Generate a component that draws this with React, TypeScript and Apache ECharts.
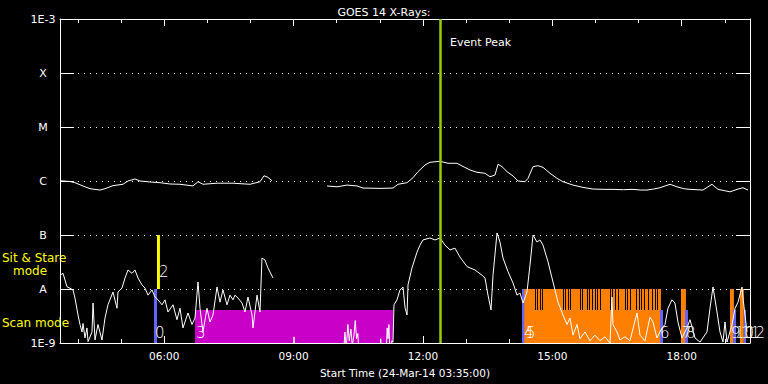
import React, { useEffect, useRef } from "react";
import * as echarts from "echarts";

const START_HOUR = 3 + 35 / 60;
const END_HOUR = START_HOUR + 16;
const FONT = '"DejaVu Sans", sans-serif';

const xMinorTicks = [4, 5, 6, 7, 8, 9, 10, 11, 12, 13, 14, 15, 16, 17, 18, 19];
const xMajorTicks = [6, 9, 12, 15, 18];
const yTickLabels = ["1E-9", "A", "B", "C", "M", "X", "1E-3"];
const EVENT_PEAK = 12.395;

// GOES long channel (1-8 A)
const longTimes = [
  3.583, 3.815, 3.931, 4.163, 4.279, 4.511, 4.627, 4.812, 5.044, 5.16, 5.322, 5.438, 5.67, 5.902,
  6.134, 6.366, 6.667, 6.783, 6.899, 7.224, 7.595, 7.989, 8.221, 8.313, 8.406, 8.499, 9.0,
  9.775, 10.006, 10.238, 10.47, 10.609, 11.004, 11.305, 11.421, 11.63, 11.769, 11.885, 12.047,
  12.163, 12.395, 12.58, 12.789, 12.905, 13.091, 13.253, 13.438, 13.554, 13.67, 13.74, 13.833,
  13.949, 14.088, 14.204, 14.366, 14.436, 14.552, 14.667, 14.783, 14.946, 15.108, 15.247, 15.479,
  15.711, 15.943, 16.2, 16.406, 16.65, 16.87, 17.05, 17.195, 17.35, 17.496, 17.728, 17.89, 18.05,
  18.192, 18.494, 18.702, 18.841, 19.0, 19.12, 19.282, 19.421, 19.537,
];
const longFlux = [
  1.01e-6, 9.8e-7, 9.3e-7, 7.8e-7, 7.2e-7, 6.8e-7, 7.2e-7, 8.2e-7, 8.7e-7, 1.0e-6, 1.09e-6, 1.0e-6, 9.6e-7, 9.3e-7,
  8.8e-7, 8.7e-7, 8.1e-7, 9.7e-7, 8.7e-7, 9.1e-7, 9.1e-7, 8.7e-7, 9.7e-7, 1.25e-6, 1.17e-6, 1.01e-6, null,
  8.1e-7, 7.8e-7, 8.4e-7, 8.1e-7, 7.4e-7, 7.3e-7, 7.4e-7, 8.7e-7, 9.3e-7, 1.15e-6, 1.49e-6, 1.98e-6,
  2.22e-6, 2.32e-6, 2.13e-6, 2.13e-6, 1.9e-6, 1.6e-6, 1.45e-6, 1.39e-6, 1.2e-6, 1.29e-6, 2.04e-6, 1.84e-6,
  1.49e-6, 1.24e-6, 1.0e-6, 9.7e-7, 1.12e-6, 1.84e-6, 1.92e-6, 1.79e-6, 1.39e-6, 1.12e-6, 9.7e-7, 8.4e-7,
  7.6e-7, 7.1e-7, 7.0e-7, 7.0e-7, 6.9e-7, 7.0e-7, 6.8e-7, 6.8e-7, 7.1e-7, 7.5e-7, 8.7e-7, 7.8e-7, 7.2e-7,
  7.0e-7, 6.8e-7, 8.7e-7, 7.0e-7, 6.6e-7, 6.3e-7, 7.0e-7, 7.5e-7, 6.8e-7,
];

// GOES short channel (0.5-4 A)
const shortTimes = [
  3.583, 3.653, 3.746, 3.815, 3.885, 3.931, 4.001, 4.047, 4.094, 4.117, 4.163, 4.209, 4.233, 4.325,
  4.349, 4.395, 4.464, 4.557, 4.627, 4.696, 4.812, 4.905, 4.928, 5.021, 5.091, 5.16, 5.253, 5.322,
  5.392, 5.485, 5.554, 5.624, 5.717, 5.786, 5.856, 5.949, 6.018, 6.088, 6.204, 6.296, 6.366, 6.435,
  6.551, 6.644, 6.714, 6.783, 6.83, 6.899, 6.992, 7.061, 7.131, 7.224, 7.293, 7.363, 7.456, 7.525,
  7.595, 7.641, 7.711, 7.804, 7.873, 7.943, 8.036, 8.059, 8.152, 8.221, 8.267, 8.337, 8.406, 8.522,
  8.55,
  8.6, 8.98, 9.01, 9.04, 10.15, 10.19, 10.22, 10.26, 10.29, 10.33, 10.36, 10.4, 10.43, 10.46, 10.49,
  10.52, 11.0, 11.02, 11.05, 11.14, 11.17, 11.19, 11.21, 11.24, 11.28, 11.305, 11.328, 11.398,
  11.467, 11.537, 11.583, 11.63, 11.653, 11.745, 11.861, 11.931, 12.001, 12.163, 12.279, 12.395,
  12.511, 12.627, 12.743, 12.858, 13.021, 13.206, 13.369, 13.438, 13.508, 13.578, 13.624, 13.717,
  13.786, 13.856, 13.972, 14.088, 14.18, 14.25, 14.32, 14.412, 14.482, 14.552, 14.644, 14.713,
  14.783, 14.899, 15.015, 15.131, 15.247, 15.34, 15.409, 15.479, 15.572, 15.641, 15.757, 15.873,
  15.989, 16.105, 16.221, 16.337, 16.383, 16.406, 16.499, 16.568, 16.684, 16.8, 16.963, 17.032,
  17.148, 17.264, 17.334, 17.426, 17.542, 17.612, 17.681, 17.774, 17.843, 17.913, 18.006, 18.122,
  18.192, 18.308, 18.424, 18.586, 18.656, 18.725, 18.818, 18.888, 18.957, 19.004, 19.05, 19.166,
  19.236, 19.305, 19.398, 19.421, 19.467, 19.514,
];
const shortFlux = [
  1.8e-8, 1.95e-8, 1.1e-8, 1.03e-8, 9.6e-9, 6.8e-9, 3.3e-9, 2.2e-9, 1.6e-9, 2.3e-9, 1.24e-9, 1.9e-9, 1.06e-9, 1.6e-9,
  5.5e-9, 1.14e-9, 2.2e-9, 1.14e-9, 2.9e-9, 5.1e-9, 8.8e-9, 4.4e-9, 8.8e-9, 1.04e-8, 1.6e-8, 2.25e-8, 1.95e-8, 2.25e-8,
  1.6e-8, 1.19e-8, 1.04e-8, 7.7e-9, 9.6e-9, 7.1e-9, 6.3e-9, 5.1e-9, 6.3e-9, 3.75e-9, 5.1e-9, 2.7e-9, 4.4e-9, 1.9e-9,
  3.6e-9, 2.2e-9, 2.9e-9, 1.35e-8, 4.4e-9, 1.6e-9, 4.4e-9, 2.45e-9, 3.3e-9, 1.09e-8, 5.7e-9, 9.6e-9, 5.1e-9, 7.7e-9,
  6.3e-9, 7.7e-9, 6.8e-9, 5.5e-9, 3.75e-9, 7.1e-9, 3.3e-9, 1.9e-9, 7.7e-9, 3.75e-9, 3.75e-8, 3.44e-8, 2.45e-8, 1.6e-8,
  null,
  5e-10, 5e-10, 1.3e-9, 5e-10, 5e-10, 1.6e-9, 8e-10, 2.2e-9, 1.1e-9, 1.8e-9, 9e-10, 1.4e-9, 2.6e-9, 1.2e-9, 1.5e-9,
  5e-10, 5e-10, 1.2e-9, 5e-10, 5e-10, 1.9e-9, 1.2e-9, 2.2e-9, 5e-10, 1.1e-9, 1.04e-9, 5.1e-9, 6.3e-9,
  9.6e-9, 1.09e-8, 4.6e-9, 3.3e-9, 1.19e-8, 2.45e-8, 4.8e-8, 6.5e-8, 8.1e-8, 8.8e-8, 8.1e-8, 8.8e-8,
  6.5e-8, 5.3e-8, 5.7e-8, 3.9e-8, 2.6e-8, 2.25e-8, 1.8e-8, 1.6e-8, 7.7e-9, 4.1e-9, 1.8e-8, 1.09e-7,
  7.4e-8, 3.75e-8, 2.1e-8, 1.29e-8, 7.7e-9, 8.4e-9, 5.5e-9, 8.8e-9, 2.8e-8, 1.0e-7, 7.4e-8, 8.1e-8,
  6.5e-8, 3.2e-8, 1.35e-8, 5.7e-9, 3.3e-9, 2.2e-9, 2.9e-9, 1.4e-9, 2.2e-9, 1.2e-9, 1.6e-9, 1.1e-9,
  1.4e-9, 1.1e-9, 1.3e-9, 1.0e-9, 7.1e-9, 2.2e-9, 1.6e-9, 1.14e-9, 1.3e-9, 1.1e-9, 3.6e-9, 1.4e-9,
  1.1e-9, 3.0e-9, 2.45e-9, 1.24e-9, 1.9e-9, 2.2e-9, 4.4e-9, 6.3e-9, 5.5e-9, 2.45e-9, 1.24e-9, 1.9e-9,
  2.7e-9, 1.24e-9, 1.04e-9, 1.6e-9, 4.4e-9, 1.09e-8, 3.75e-9, 1.6e-9, 1.04e-9, 2.45e-9, 1.04e-9, 2.2e-9,
  4.4e-9, 5.7e-9, 1.09e-8, 6.8e-9, 3.3e-9, 1.6e-9,
];

// Observation modes: 0 blue, 1 yellow, 2 magenta, 3 orange
const MODE_COLORS = ["#6464ff", "#ffff00", "#c800c8", "#ff8000"];
const FLOOR = 1e-9;
const SCAN_TOP = 4.1e-9;
const LEVEL_A = 1e-8;
const LEVEL_B = 1e-7;
const modeStart = [5.763, 5.832, 6.714, 14.296, 14.35, 17.496, 17.983, 18.076, 19.12, 19.189, 19.35, 19.44];
const modeEnd = [5.832, 5.9, 11.305, 14.366, 17.519, 17.566, 18.098, 18.145, 19.21, 19.259, 19.44, 19.49];
const modeLow = [FLOOR, LEVEL_A, FLOOR, FLOOR, FLOOR, FLOOR, FLOOR, FLOOR, FLOOR, FLOOR, FLOOR, FLOOR];
const modeHigh = [LEVEL_A, LEVEL_B, SCAN_TOP, LEVEL_A, LEVEL_A, SCAN_TOP, LEVEL_A, SCAN_TOP, LEVEL_A, SCAN_TOP, LEVEL_A, SCAN_TOP];
const modeColor = [0, 1, 2, 0, 3, 0, 3, 0, 3, 0, 3, 0];

// short interruptions of the orange sit & stare blocks
const orangeGaps = [
  14.598, 14.644, 14.713, 14.76, 15.247, 15.293, 15.363, 15.409, 15.641, 15.688, 15.804, 15.85,
  15.919, 15.989, 16.035, 16.105, 16.337, 16.383, 16.452, 16.522, 16.684, 16.731, 16.8, 16.939,
  17.009, 17.055, 17.125, 17.218, 17.31, 17.38, 17.426,
];

const labelText = ["0", "2", "3", "4", "5", "6", "7", "8", "9", "10", "11", "12"];
const labelTime = [5.786, 5.879, 6.737, 14.343, 14.389, 17.496, 18.006, 18.099, 19.143, 19.236, 19.375, 19.49];
const labelFlux = [1.53e-9, 2.06e-8, 1.53e-9, 1.53e-9, 1.53e-9, 1.53e-9, 1.53e-9, 1.53e-9, 1.53e-9, 1.53e-9, 1.53e-9, 1.53e-9];

function pad2(n: number) {
  return (n < 10 ? "0" : "") + n;
}

export default function App() {
  const ref = useRef<HTMLDivElement>(null);
  useEffect(() => {
    if (!ref.current) return;
    const chart = echarts.init(ref.current, null, { renderer: "svg" });
    const white = "#ffffff";
    const longData = longTimes.map((t, i) => [t, longFlux[i]]);
    const shortData = shortTimes.map((t, i) => [t, shortFlux[i]]);
    const modeData = modeStart.map((s, i) => [s, modeEnd[i], modeLow[i], modeHigh[i], modeColor[i]]);
    const gapData = orangeGaps.map((t) => [t, SCAN_TOP, LEVEL_A]);
    const labelData = labelTime.map((t, i) => [t, labelFlux[i], i]);

    const xBase = {
      type: "value",
      min: START_HOUR,
      max: END_HOUR,
      splitLine: { show: false },
    };
    const yBase = {
      type: "log",
      logBase: 10,
      min: 1e-9,
      max: 1e-3,
      splitNumber: 6,
    };

    chart.setOption({
      animation: false,
      backgroundColor: "#000000",
      title: {
        text: "GOES 14 X-Rays:",
        left: "center",
        top: 2,
        textStyle: { color: white, fontSize: 11, fontWeight: "normal", fontFamily: FONT },
      },
      grid: { left: 60, right: 18, top: 19, bottom: 41, containLabel: false },
      xAxis: [
        {
          ...xBase,
          position: "bottom",
          axisLine: { show: true, onZero: false, lineStyle: { color: white, width: 1 } },
          axisTick: { show: true, inside: true, length: 4, customValues: xMinorTicks, lineStyle: { color: white } },
          axisLabel: {
            show: true,
            customValues: xMajorTicks,
            color: white,
            fontSize: 10.5,
            fontFamily: FONT,
            margin: 7,
            formatter: (v: number) => pad2(Math.round(v)) + ":00",
          },
          name: "Start Time (24-Mar-14 03:35:00)",
          nameLocation: "middle",
          nameGap: 24,
          nameTextStyle: { color: white, fontSize: 10.5, fontFamily: FONT },
        },
        {
          ...xBase,
          position: "bottom",
          axisLine: { show: false },
          axisTick: { show: true, inside: true, length: 7, customValues: xMajorTicks, lineStyle: { color: white } },
          axisLabel: { show: false },
        },
        {
          ...xBase,
          position: "top",
          axisLine: { show: true, onZero: false, lineStyle: { color: white, width: 1 } },
          axisTick: { show: true, inside: true, length: 4, customValues: xMinorTicks, lineStyle: { color: white } },
          axisLabel: { show: false },
        },
        {
          ...xBase,
          position: "top",
          axisLine: { show: false },
          axisTick: { show: true, inside: true, length: 7, customValues: xMajorTicks, lineStyle: { color: white } },
          axisLabel: { show: false },
        },
      ],
      yAxis: [
        {
          ...yBase,
          position: "left",
          axisLine: { show: true, onZero: false, lineStyle: { color: white, width: 1 } },
          axisTick: { show: true, inside: true, length: 14, lineStyle: { color: white } },
          axisLabel: {
            color: white,
            fontSize: 11,
            fontFamily: FONT,
            align: "center",
            margin: 17,
            formatter: (v: number) => yTickLabels[Math.round(Math.log10(v)) + 9] || "",
          },
          splitLine: { show: true, lineStyle: { color: white, width: 1, type: [1, 5] } },
        },
        {
          ...yBase,
          position: "right",
          axisLine: { show: true, onZero: false, lineStyle: { color: white, width: 1 } },
          axisTick: { show: true, inside: true, length: 14, lineStyle: { color: white } },
          axisLabel: { show: false },
          splitLine: { show: false },
        },
      ],
      graphic: [
        { type: "text", left: 450, top: 37, style: { text: "Event Peak", fill: white, font: `11px ${FONT}` } },
        { type: "text", left: 2, top: 252, style: { text: "Sit & Stare", fill: "#ffff00", font: `12px ${FONT}` } },
        { type: "text", left: 13, top: 265, style: { text: "mode", fill: "#ffff00", font: `12px ${FONT}` } },
        { type: "text", left: 2, top: 317, style: { text: "Scan mode", fill: "#ffff00", font: `12px ${FONT}` } },
      ],
      series: [
        {
          type: "custom",
          name: "modes",
          z: 1,
          data: modeData,
          encode: { x: [0, 1], y: [2, 3] },
          renderItem: (params: any, api: any) => {
            const a = api.coord([api.value(0), api.value(3)]);
            const b = api.coord([api.value(1), api.value(2)]);
            return {
              type: "rect",
              shape: { x: a[0], y: a[1], width: Math.max(b[0] - a[0], 1.5), height: b[1] - a[1] },
              style: { fill: MODE_COLORS[api.value(4)] },
            };
          },
        },
        {
          type: "custom",
          name: "gaps",
          z: 2,
          data: gapData,
          encode: { x: 0, y: [1, 2] },
          renderItem: (params: any, api: any) => {
            const a = api.coord([api.value(0), api.value(2)]);
            const b = api.coord([api.value(0), api.value(1)]);
            const x = Math.round(a[0]);
            return {
              type: "rect",
              shape: { x: x, y: a[1], width: 1, height: b[1] - a[1] },
              style: { fill: "#000000" },
            };
          },
        },
        {
          type: "line",
          name: "long",
          z: 3,
          data: longData,
          showSymbol: false,
          symbol: "none",
          connectNulls: false,
          lineStyle: { color: white, width: 1 },
        },
        {
          type: "line",
          name: "short",
          z: 3,
          data: shortData,
          showSymbol: false,
          symbol: "none",
          connectNulls: false,
          lineStyle: { color: white, width: 1 },
          markLine: {
            silent: true,
            symbol: "none",
            label: { show: false },
            lineStyle: { color: "#99cc00", width: 2.5, type: "solid" },
            data: [{ xAxis: EVENT_PEAK }],
          },
        },
        {
          type: "custom",
          name: "labels",
          z: 4,
          data: labelData,
          encode: { x: 0, y: 1 },
          renderItem: (params: any, api: any) => {
            const p = api.coord([api.value(0), api.value(1)]);
            return {
              type: "text",
              x: p[0],
              y: p[1],
              style: {
                text: labelText[api.value(2)],
                fill: white,
                font: `200 15px ${FONT}`,
                align: "left",
                verticalAlign: "middle",
              },
            };
          },
        },
      ],
    });
    return () => chart.dispose();
  }, []);
  return (
    <div
      ref={ref}
      style={{ position: "fixed", left: 0, top: 0, width: 768, height: 384, background: "#000" }}
    />
  );
}
